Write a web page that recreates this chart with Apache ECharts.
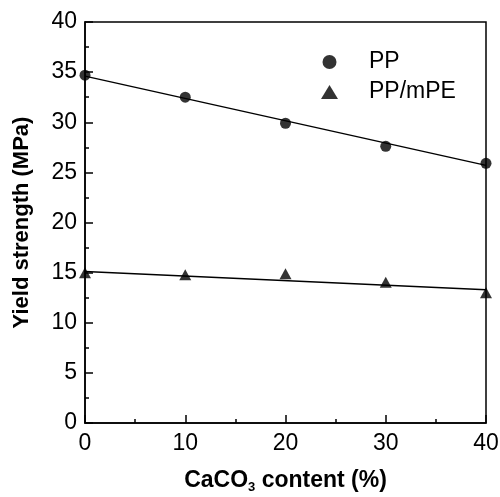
<!DOCTYPE html>
<html>
<head>
<meta charset="utf-8">
<script src="https://cdn.jsdelivr.net/npm/echarts@6/dist/echarts.min.js"></script>
<style>
  html, body { margin: 0; padding: 0; background: #fff; }
  #chart { width: 500px; height: 497px; }
</style>
</head>
<body>
<div id="chart"></div>
<script>
// CaCO3 content (%)
const caco3 = [0, 10, 20, 30, 40];
// measured yield strength (MPa)
const ppValues = [34.7, 32.5, 29.9, 27.6, 25.9];
const mpeValues = [15.0, 14.8, 14.9, 14.05, 13.0];
// fitted lines, ends
const fitX = [0, 40];
const ppFit = [34.6, 25.7];
const mpeFit = [15.1, 13.3];

const font = "Liberation Sans, Arial, sans-serif";

const pairs = (xs, ys) => xs.map((x, i) => [x, ys[i]]);

const chart = echarts.init(document.getElementById("chart"));

chart.setOption({
	animation: false,
	backgroundColor: "#fff",
	grid: {
		left: 85,
		right: 14,
		top: 22,
		bottom: 74,
		containLabel: false,
		outerBoundsMode: "none",
		show: true,
		borderColor: "#000",
		borderWidth: 1.5,
	},
	legend: {
		data: ["PP", "PP/mPE"],
		orient: "vertical",
		left: 316,
		top: 42,
		itemWidth: 17,
		itemHeight: 14,
		itemGap: 0,
		textStyle: { fontFamily: font, fontSize: 23, lineHeight: 30, color: "#000", padding: [0, 0, 0, 26] },
	},
	xAxis: {
		type: "value",
		min: 0,
		max: 40,
		interval: 10,
		name: "{n|CaCO}{s|3}{n| content (%)}",
		nameLocation: "middle",
		nameGap: 44,
		nameTextStyle: {
			rich: {
				n: { fontFamily: font, fontSize: 23, fontWeight: "bold", color: "#000" },
				s: { fontFamily: font, fontSize: 13, fontWeight: "bold", color: "#000", padding: [14, 0, 0, 0] },
			},
		},
		axisLine: { lineStyle: { color: "#000", width: 1.5 } },
		axisTick: { inside: true, length: 8, lineStyle: { color: "#000", width: 1.5 } },
		minorTick: { show: true, splitNumber: 2, length: 4, lineStyle: { color: "#000", width: 1.5 } },
		splitLine: { show: false },
		axisLabel: { fontFamily: font, fontSize: 23, color: "#000", margin: 9 },
	},
	yAxis: {
		type: "value",
		min: 0,
		max: 40,
		interval: 5,
		name: "Yield strength (MPa)",
		nameLocation: "middle",
		nameGap: 52,
		nameTextStyle: { fontFamily: font, fontSize: 22, fontWeight: "bold", color: "#000" },
		axisLine: { lineStyle: { color: "#000", width: 1.5 } },
		axisTick: { inside: true, length: 8, lineStyle: { color: "#000", width: 1.5 } },
		minorTick: { show: true, splitNumber: 2, length: 4, lineStyle: { color: "#000", width: 1.5 } },
		splitLine: { show: false },
		axisLabel: { fontFamily: font, fontSize: 23, color: "#000", margin: 8 },
	},
	series: [
		{
			name: "PP fit",
			type: "line",
			data: pairs(fitX, ppFit),
			symbol: "none",
			lineStyle: { color: "#000", width: 1.5 },
			z: 1,
		},
		{
			name: "PP/mPE fit",
			type: "line",
			data: pairs(fitX, mpeFit),
			symbol: "none",
			lineStyle: { color: "#000", width: 1.5 },
			z: 1,
		},
		{
			name: "PP",
			type: "scatter",
			data: pairs(caco3, ppValues),
			symbol: "circle",
			symbolSize: 11,
			itemStyle: { color: "#000" },
			z: 3,
		},
		{
			name: "PP/mPE",
			type: "scatter",
			data: pairs(caco3, mpeValues),
			symbol: "triangle",
			symbolSize: [12, 11],
			itemStyle: { color: "#000" },
			z: 3,
		},
	],
});
</script>
</body>
</html>
